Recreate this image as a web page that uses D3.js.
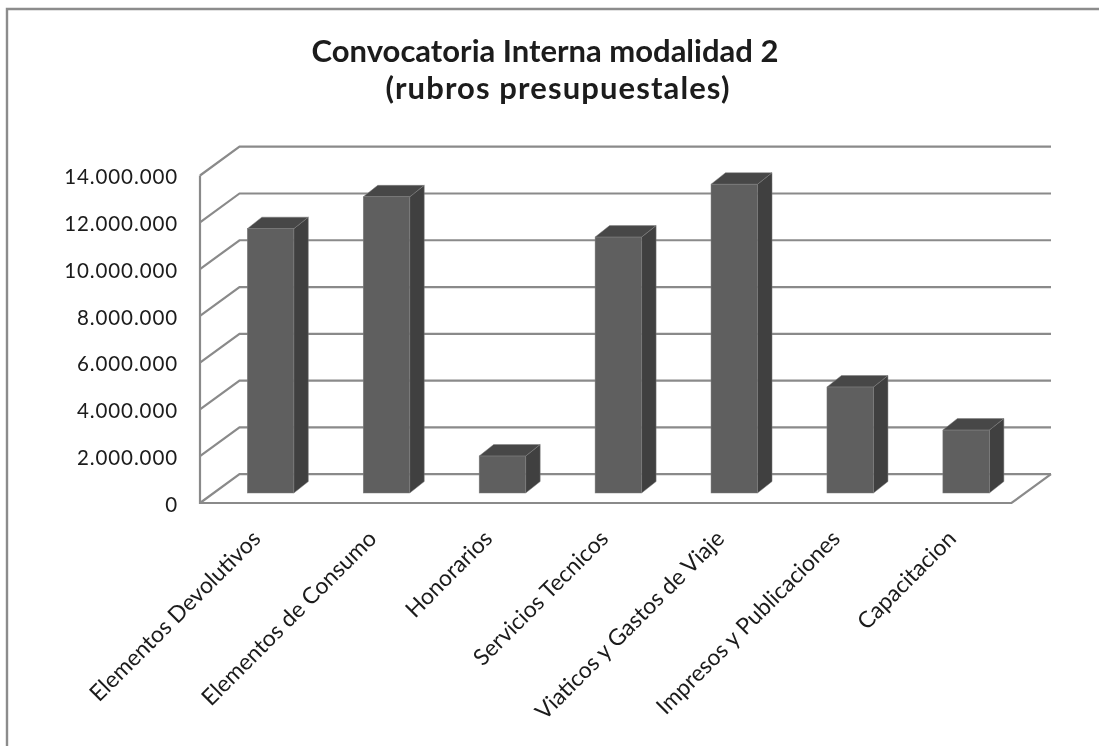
<!DOCTYPE html>
<html><head><meta charset="utf-8">
<script src="https://cdn.jsdelivr.net/npm/d3@7/dist/d3.min.js"></script>
<style>html,body{margin:0;padding:0;background:#fff}svg{display:block}text{font-family:Lato,"Open Sans",sans-serif;fill:#1a1a1a}</style>
</head><body><svg id="c" width="1099" height="746"></svg>
<script>
const categories=["Elementos Devolutivos","Elementos de Consumo","Honorarios","Servicios Tecnicos","Viaticos y Gastos de Viaje","Impresos y Publicaciones","Capacitacion"];
const values=[11300000,12660000,1580000,10940000,13200000,4530000,2690000];
const tickValues=[0,2000000,4000000,6000000,8000000,10000000,12000000,14000000];
const titleLines=["Convocatoria Interna modalidad 2","(rubros presupuestales)"];

const svg=d3.select("#c");
const defs=svg.append("defs");
defs.append("filter").attr("id","soft").attr("filterUnits","userSpaceOnUse").attr("x",0).attr("y",0).attr("width",1099).attr("height",746)
  .append("feGaussianBlur").attr("stdDeviation",0.45);
const root=svg.append("g").attr("filter","url(#soft)");

root.append("path").attr("d","M7,746V9H1099").attr("fill","none").attr("stroke","#8c8c8c").attr("stroke-width",2.4);

const y=d3.scaleLinear().domain([0,14000000]).range([503,175.5]);
const x=d3.scaleBand().domain(categories).range([200,1011.5]).paddingInner(0).paddingOuter(0);
const depthX=39.5, depthY=-28.8;      // wall depth
const barShiftX=12.6, barShiftY=-10;  // bar front plane
const barDX=14.5, barDY=-11.5;        // bar depth
const barW=46.5;
const gridColor="#8a8a8a";

const grid=root.append("g").attr("fill","none").attr("stroke",gridColor).attr("stroke-width",2.2);
grid.selectAll("path").data(tickValues).join("path")
  .attr("d",v=>`M${x.range()[0]},${y(v)}L${x.range()[0]+depthX},${y(v)+depthY}H${x.range()[1]+depthX}`);
grid.append("path").attr("d",`M200,${y(14000000)}V${y(0)}H${x.range()[1]}L${x.range()[1]+depthX},${y(0)+depthY}`);

const bars=root.append("g").selectAll("g").data(categories).join("g");
const left=c=>x(c)+x.bandwidth()/2+barShiftX-barW/2;
const base=y(0)+barShiftY;
const topY=(i)=>base-(y(0)-y(values[i]));
bars.append("path").attr("fill","#3f3f3f").attr("stroke","#7f7f7f").attr("stroke-width",0.5)
  .attr("d",(c,i)=>{const l=left(c)+barW,t=topY(i);return `M${l},${t}l${barDX},${barDY}V${base+barDY}L${l},${base}Z`;});
bars.append("path").attr("fill","#474747").attr("stroke","#7f7f7f").attr("stroke-width",0.5)
  .attr("d",(c,i)=>{const l=left(c),t=topY(i);return `M${l},${t}l${barDX},${barDY}h${barW}l${-barDX},${-barDY}Z`;});
bars.append("rect").attr("fill","#5e5e5e").attr("stroke","#7f7f7f").attr("stroke-width",0.5)
  .attr("x",left).attr("y",(c,i)=>topY(i)).attr("width",barW).attr("height",(c,i)=>base-topY(i));

const fmt=d3.formatLocale({decimal:",",thousands:".",grouping:[3],currency:["",""]}).format(",d");
root.append("g").selectAll("text").data(tickValues).join("text")
  .attr("x",178).attr("y",v=>y(v)+1.5).attr("dy","0.35em").attr("text-anchor","end")
  .attr("font-size",20.5).attr("letter-spacing",0.9).text(v=>fmt(v));

root.append("g").selectAll("text").data(categories).join("text")
  .attr("text-anchor","end").attr("font-size",22.8)
  .attr("transform",c=>`translate(${x(c)+x.bandwidth()/2+4},540) rotate(-45)`)
  .text(c=>c);

root.append("g").selectAll("text").data(titleLines).join("text")
  .attr("x",(d,i)=>i?558:545).attr("y",(d,i)=>62+i*37).attr("text-anchor","middle")
  .attr("font-size",31).attr("font-weight",700).attr("letter-spacing",(d,i)=>i?1.1:0).text(d=>d);
</script></body></html>
